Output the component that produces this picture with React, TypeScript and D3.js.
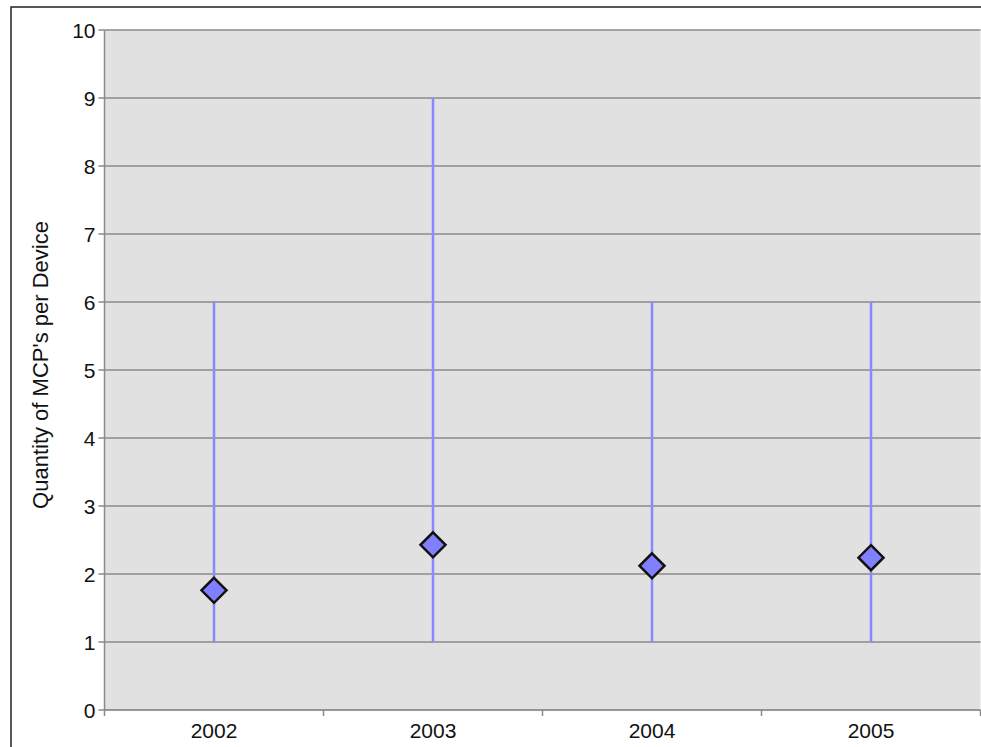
import React from "react";
import * as d3 from "d3";

const years = ["2002", "2003", "2004", "2005"];
const minValues = [1, 1, 1, 1];
const maxValues = [6, 9, 6, 6];
const meanValues = [1.76, 2.43, 2.12, 2.24];
const yTicks = [0, 1, 2, 3, 4, 5, 6, 7, 8, 9, 10];

const W = 981;
const H = 747;
const plot = { left: 104.5, right: 980.5, top: 30, bottom: 710 };

export default function App() {
  const x = d3.scaleBand().domain(years).range([plot.left, plot.right]);
  const y = d3.scaleLinear().domain([0, 10]).range([plot.bottom, plot.top]);
  const bw = x.bandwidth();
  const font = "'Liberation Sans', Arial, sans-serif";
  const ds = 12.5;

  return (
    <div style={{ position: "absolute", left: 0, top: 0 }}>
      <svg width={W} height={H} style={{ display: "block", background: "#fff" }}>
        <rect x={11} y={7} width={W + 20} height={H + 20} fill="#fff" stroke="#222" strokeWidth={1.5} />
        <rect x={plot.left} y={plot.top} width={plot.right - plot.left} height={plot.bottom - plot.top} fill="#e1e1e1" />
        {yTicks.map((t) => (
          <g key={t}>
            {t > 0 && (
              <line x1={plot.left} x2={plot.right} y1={y(t)} y2={y(t)} stroke="#8a8a8a" strokeWidth={1.5} />
            )}
            <line x1={plot.left - 6} x2={plot.left} y1={y(t)} y2={y(t)} stroke="#8a8a8a" strokeWidth={1.5} />
            <text x={plot.left - 9} y={y(t)} dy="0.36em" textAnchor="end" fontFamily={font} fontSize={21} fill="#111">
              {t}
            </text>
          </g>
        ))}
        <line x1={plot.left} x2={plot.left} y1={plot.top} y2={plot.bottom} stroke="#8a8a8a" strokeWidth={1.5} />
        <line x1={plot.left} x2={plot.right} y1={plot.bottom} y2={plot.bottom} stroke="#777" strokeWidth={1.5} />
        {years.map((yr) => (
          <line key={"tk" + yr} x1={x(yr) as number} x2={x(yr) as number} y1={plot.bottom} y2={plot.bottom + 6} stroke="#8a8a8a" strokeWidth={1.5} />
        ))}
        <line x1={plot.right} x2={plot.right} y1={plot.bottom} y2={plot.bottom + 6} stroke="#8a8a8a" strokeWidth={1.5} />
        {years.map((yr) => (
          <text key={"lb" + yr} x={(x(yr) as number) + bw / 2} y={plot.bottom + 28} textAnchor="middle" fontFamily={font} fontSize={21} fill="#111">
            {yr}
          </text>
        ))}
        {years.map((yr, i) => {
          const cx = (x(yr) as number) + bw / 2;
          return (
            <line key={"rg" + yr} x1={cx} x2={cx} y1={y(minValues[i])} y2={y(maxValues[i])} stroke="#8888ff" strokeWidth={2.5} />
          );
        })}
        {years.map((yr, i) => {
          const cx = (x(yr) as number) + bw / 2;
          const cy = y(meanValues[i]);
          return (
            <path
              key={"mk" + yr}
              d={`M${cx},${cy - ds}L${cx + ds},${cy}L${cx},${cy + ds}L${cx - ds},${cy}Z`}
              fill="#8080ff"
              stroke="#111"
              strokeWidth={2.5}
              strokeLinejoin="miter"
            />
          );
        })}
        <text
          transform={`translate(48,365) rotate(-90)`}
          textAnchor="middle"
          fontFamily={font}
          fontSize={22}
          fill="#111"
        >
          Quantity of MCP's per Device
        </text>
      </svg>
    </div>
  );
}
